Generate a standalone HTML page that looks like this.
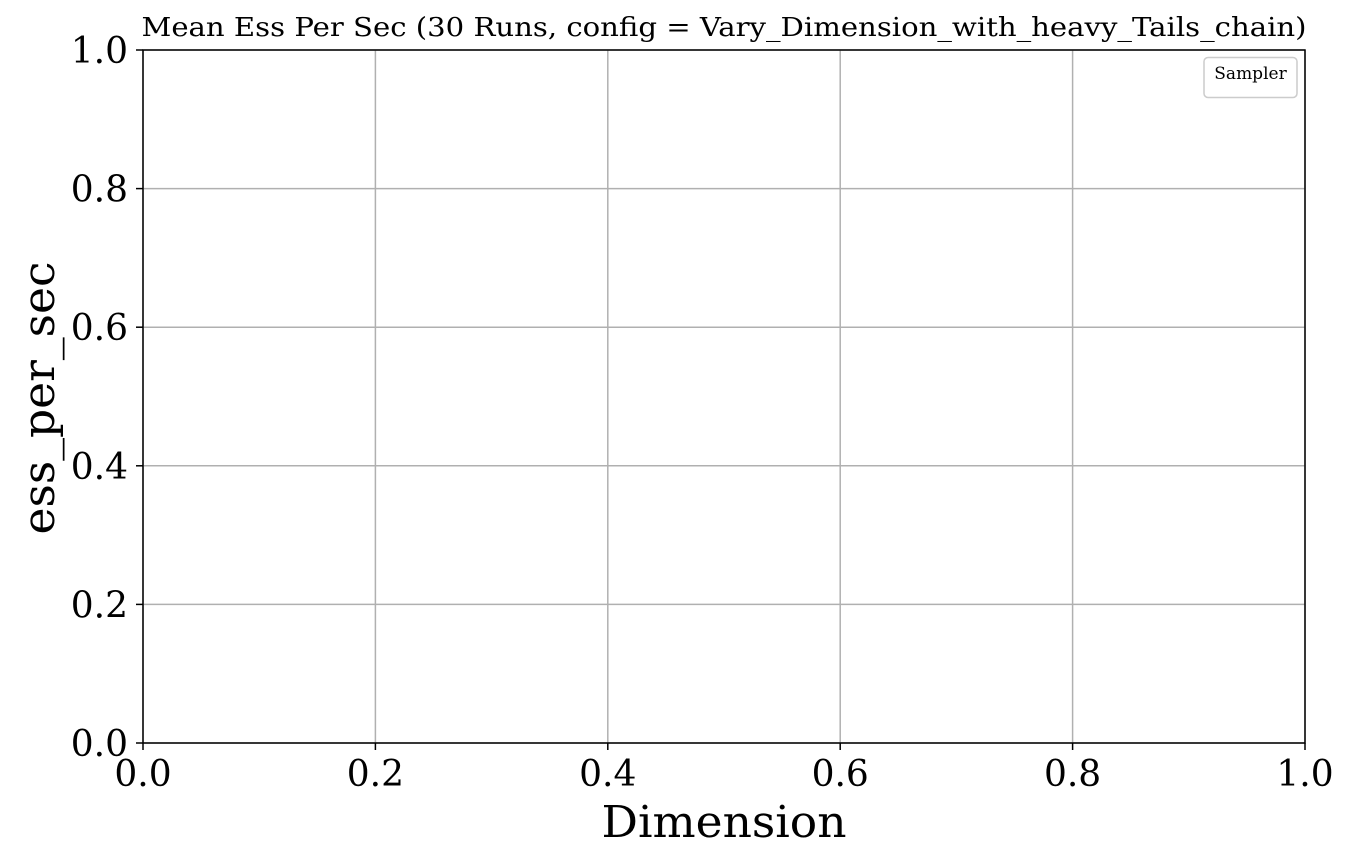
<!DOCTYPE html>
<html><head><meta charset="utf-8"><style>
html,body{margin:0;padding:0;background:#fff;}
svg{display:block;font-family:"DejaVu Serif","Liberation Serif",serif;}
</style></head><body>
<svg id="chart" width="1350" height="862" viewBox="0 0 1350 862">
<rect width="1350" height="862" fill="#fff"/>
<g id="grid"></g>
<g id="ticks"></g>
<rect x="143" y="50" width="1162" height="693" fill="none" stroke="#000" stroke-width="1.5"/>
<text x="724" y="36" font-size="26" text-anchor="middle" textLength="1165" lengthAdjust="spacingAndGlyphs">Mean Ess Per Sec (30 Runs, config = Vary_Dimension_with_heavy_Tails_chain)</text>
<text x="724" y="837" font-size="44" text-anchor="middle" textLength="245" lengthAdjust="spacingAndGlyphs">Dimension</text>
<text transform="translate(54,398) rotate(-90)" font-size="44" text-anchor="middle" textLength="273" lengthAdjust="spacingAndGlyphs">ess_per_sec</text>
<g>
<rect x="1204" y="57.5" width="93" height="40" rx="4" fill="#fff" stroke="#ccc" stroke-width="1.5"/>
<text x="1250.5" y="79" font-size="17" text-anchor="middle">Sampler</text>
</g>
</svg>
<script>
const xTicks = [0.0, 0.2, 0.4, 0.6, 0.8, 1.0];
const yTicks = [0.0, 0.2, 0.4, 0.6, 0.8, 1.0];
const xDomain = [0, 1];
const yDomain = [0, 1];
const L=143,R=1305,T=50,B=743;
const xs=v=>L+(v-xDomain[0])/(xDomain[1]-xDomain[0])*(R-L);
const ys=v=>B-(v-yDomain[0])/(yDomain[1]-yDomain[0])*(B-T);
const NS='http://www.w3.org/2000/svg';
const grid=document.getElementById('grid'), tk=document.getElementById('ticks');
function mk(tag,attrs,parent){const e=document.createElementNS(NS,tag);for(const k in attrs)e.setAttribute(k,attrs[k]);parent.appendChild(e);return e;}
xTicks.forEach(v=>{
  const x=xs(v);
  const g=mk('line',{x1:x,x2:x,y1:T,y2:B,stroke:'#b0b0b0','stroke-width':1.5},grid);
  
  
  const t=mk('line',{x1:x,x2:x,y1:B,y2:B+7,stroke:'#000','stroke-width':1.5},tk);
  
  
  const l=mk('text',{x:x,y:786,'font-size':36,'text-anchor':'middle'},tk);
  l.textContent=v.toFixed(1);
  
  
});
yTicks.forEach(v=>{
  const y=ys(v);
  const g=mk('line',{x1:L,x2:R,y1:y,y2:y,stroke:'#b0b0b0','stroke-width':1.5},grid);
  
  
  const t=mk('line',{x1:L-7,x2:L,y1:y,y2:y,stroke:'#000','stroke-width':1.5},tk);
  
  
  const l=mk('text',{x:128,y:y+13,'font-size':36,'text-anchor':'end'},tk);
  l.textContent=v.toFixed(1);
  
  
});
</script>
</body></html>
